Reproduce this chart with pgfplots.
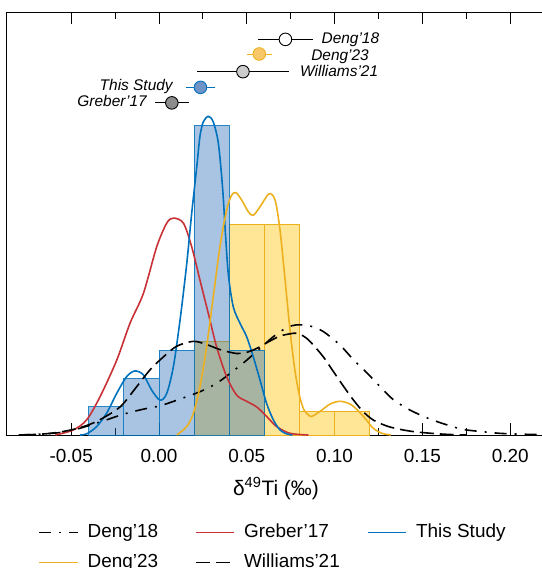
\documentclass[border=0pt]{standalone}
\usepackage{fontspec}
\setmainfont{Liberation Sans}
\usepackage{pgfplots}
\pgfplotsset{compat=1.18}
\definecolor{mblue}{RGB}{0,114,189}
\definecolor{bfill}{RGB}{37,107,182}
\definecolor{myellow}{RGB}{237,177,32}
\definecolor{yfill}{RGB}{255,229,150}
\definecolor{mred}{RGB}{200,50,55}
\definecolor{dfill}{RGB}{248,199,106}
\definecolor{tsfill}{RGB}{111,147,198}

\begin{document}
\begin{tikzpicture}
\begin{axis}[
  scale only axis, width=538.7bp, height=423bp,
  xmin=-0.0868, xmax=0.22, ymin=0, ymax=0.7527,
  axis line style={line width=0.9bp},
  xtick={-0.05,0,0.05,0.1,0.15,0.2},
  minor x tick num=1,
  ytick=\empty,
  tick align=inside,
  major tick length=12.5bp, minor tick length=7.5bp,
  every tick/.style={black, line width=0.9bp},
  xticklabel style={font=\fontsize{19}{22}\selectfont, anchor=base, yshift=-27.3bp, inner sep=0pt},
  /pgf/number format/.cd, fixed, fixed zerofill, precision=2, assume math mode=true, /pgfplots/.cd,
  xlabel={δ\textsuperscript{49}Ti (‰)},
  xlabel style={font=\fontsize{21}{24}\selectfont, at={(axis description cs:0.5,0)}, anchor=base, yshift=-60bp, inner sep=0pt},
  legend columns=3,
  legend cell align=left,
  legend image code/.code={\draw[#1] (0bp,0bp) -- (38.4bp,0bp);},
  legend style={draw=none, fill=none, font=\fontsize{19}{22}\selectfont,
    at={(axis description cs:0,0)}, anchor=north west, xshift=31.7bp, yshift=-88.3bp,
    inner sep=0pt, outer sep=0pt, row sep=12bp,
    nodes={inner sep=0pt, text height=14bp, text depth=4bp},
    /tikz/every odd column/.append style={column sep=9.3bp},
    /tikz/column 2/.append style={column sep=36.7bp},
    /tikz/column 4/.append style={column sep=27bp}},
]
% histograms
\addplot[ybar, bar width=0.02, bar shift=0pt, fill=yfill, draw=myellow, line width=1bp, forget plot]
  coordinates {(0.03,0.1667) (0.05,0.375) (0.07,0.375) (0.09,0.0417) (0.11,0.0417)};
\addplot[ybar, bar width=0.02, bar shift=0pt, fill=bfill, fill opacity=0.4, draw=mblue, draw opacity=0.85, line width=1bp, forget plot]
  coordinates {(-0.03,0.05) (-0.01,0.1) (0.01,0.15) (0.03,0.55) (0.05,0.15)};

% density curves
\addplot[black, line width=1.6bp, smooth, dash pattern=on 12bp off 8bp on 2bp off 8bp] coordinates {
(-0.08,0) (-0.065,0.002) (-0.055,0.005) (-0.045,0.012) (-0.0317,0.025) (-0.0203,0.037)
(-0.0089,0.046) (0.0006,0.052) (0.012,0.064) (0.0233,0.077) (0.0328,0.092) (0.0423,0.114)
(0.0499,0.133) (0.0575,0.154) (0.0651,0.175) (0.0727,0.191) (0.0784,0.196) (0.086,0.194)
(0.0936,0.184) (0.1031,0.160) (0.1107,0.134) (0.1183,0.111) (0.1259,0.086) (0.1334,0.063)
(0.1429,0.0445) (0.153,0.030) (0.163,0.019) (0.173,0.010) (0.184,0.006) (0.194,0.003)
(0.206,0.0015) (0.22,0.0005)};
\addlegendentry{Deng’18}
\addplot[mred, line width=1.6bp, smooth] coordinates {
(-0.059,0) (-0.0488,0.009) (-0.0412,0.027) (-0.0336,0.068) (-0.0241,0.133) (-0.0165,0.199)
(-0.0089,0.252) (-0.0013,0.335) (0.0044,0.377) (0.0082,0.386) (0.0139,0.377) (0.0186,0.335)
(0.0233,0.276) (0.0281,0.216) (0.0328,0.157) (0.0385,0.104) (0.0442,0.071) (0.0499,0.060)
(0.0556,0.050) (0.0613,0.033) (0.067,0.015) (0.0746,0.003) (0.085,0)};
\addlegendentry{Greber’17}
\addplot[mblue, line width=1.6bp, smooth] coordinates {
(-0.045,0) (-0.0412,0.002) (-0.0355,0.015) (-0.0298,0.039) (-0.0241,0.074) (-0.0184,0.104)
(-0.0137,0.114) (-0.0089,0.107) (-0.0042,0.080) (0.0006,0.062) (0.0044,0.074) (0.0082,0.122)
(0.012,0.205) (0.0158,0.305) (0.0186,0.394) (0.0215,0.477) (0.0233,0.531) (0.0252,0.557)
(0.0281,0.567) (0.0309,0.557) (0.0338,0.519) (0.0362,0.44) (0.0378,0.36) (0.0395,0.285)
(0.0423,0.228) (0.0461,0.199) (0.0499,0.175) (0.0537,0.139) (0.0575,0.098) (0.0613,0.056)
(0.0651,0.027) (0.0689,0.009) (0.0727,0.002) (0.076,0)};
\addlegendentry{This Study}
\addplot[myellow, line width=1.6bp, smooth] coordinates {
(0.0101,0) (0.0158,0.015) (0.0196,0.039) (0.0233,0.086) (0.0271,0.157) (0.0309,0.246)
(0.0347,0.335) (0.0385,0.400) (0.0414,0.427) (0.0439,0.431) (0.0471,0.418) (0.0509,0.397)
(0.0537,0.391) (0.0575,0.406) (0.0626,0.429) (0.0661,0.418) (0.0689,0.365) (0.0718,0.276)
(0.0746,0.187) (0.0774,0.115) (0.080,0.070) (0.0825,0.045) (0.085,0.036) (0.087,0.033)
(0.0917,0.042) (0.0974,0.055) (0.1031,0.060) (0.1088,0.055) (0.1135,0.043) (0.1183,0.026)
(0.122,0.012) (0.127,0.003) (0.132,0)};
\addlegendentry{Deng’23}
\addplot[black, line width=1.6bp, smooth, dash pattern=on 14bp off 6bp] coordinates {
(-0.078,0) (-0.065,0.002) (-0.055,0.006) (-0.045,0.013) (-0.035,0.025) (-0.0222,0.050)
(-0.0127,0.086) (-0.0051,0.116) (0.0025,0.139) (0.0101,0.158) (0.0196,0.1667) (0.0271,0.161)
(0.0347,0.152) (0.0442,0.145) (0.0499,0.147) (0.0556,0.154) (0.0613,0.164) (0.0689,0.176)
(0.0765,0.181) (0.0793,0.181) (0.0841,0.172) (0.0879,0.160) (0.0936,0.139) (0.0993,0.113)
(0.105,0.087) (0.1107,0.0623) (0.1163,0.0415) (0.122,0.0267) (0.1297,0.016) (0.1372,0.0101)
(0.145,0.006) (0.155,0.003) (0.165,0.001) (0.175,0)};
\addlegendentry{Williams’21}

% mean values with 2SD
\addplot[only marks, mark=*, mark size=6.3bp, mark options={fill=white, draw=black, line width=0.9bp}, forget plot,
  error bars/.cd, x dir=both, x explicit, error mark=none, error bar style={black, line width=0.9bp}]
  coordinates {(0.0720,0.704) +- (0.0158,0)};
\addplot[only marks, mark=*, mark size=6.3bp, mark options={fill=dfill, draw=myellow, line width=0.9bp}, forget plot,
  error bars/.cd, x dir=both, x explicit, error mark=none, error bar style={myellow, line width=0.9bp}]
  coordinates {(0.0571,0.678) +- (0.0071,0)};
\addplot[only marks, mark=*, mark size=6.3bp, mark options={fill=black!20, draw=black, line width=0.9bp}, forget plot,
  error bars/.cd, x dir=both, x explicit, error mark=none, error bar style={black, line width=0.9bp}]
  coordinates {(0.0478,0.6465) +- (0.0261,0)};
\addplot[only marks, mark=*, mark size=6.3bp, mark options={fill=tsfill, draw=mblue, line width=0.9bp}, forget plot,
  error bars/.cd, x dir=both, x explicit, error mark=none, error bar style={mblue, line width=0.9bp}]
  coordinates {(0.0236,0.6186) +- (0.0084,0)};
\addplot[only marks, mark=*, mark size=6.3bp, mark options={fill=black!45, draw=black, line width=0.9bp}, forget plot,
  error bars/.cd, x dir=both, x explicit, error mark=none, error bar style={black, line width=0.9bp}]
  coordinates {(0.0073,0.591) +- (0.0098,0)};

\begin{scope}[every node/.style={inner sep=0pt, font=\fontsize{15.5}{18}\selectfont\itshape}]
\node[anchor=base west] at (axis cs:0.0925,0.697) {Deng’18};
\node[anchor=base west] at (axis cs:0.0866,0.666) {Deng’23};
\node[anchor=base west] at (axis cs:0.0803,0.6388) {Williams’21};
\node[anchor=base east] at (axis cs:0.0079,0.6127) {This Study};
\node[anchor=base east] at (axis cs:-0.0069,0.5842) {Greber’17};
\end{scope}
\end{axis}
\pgfresetboundingbox
\path (-6.6bp,-133bp) rectangle (535.4bp,435bp);
\end{tikzpicture}
\end{document}
